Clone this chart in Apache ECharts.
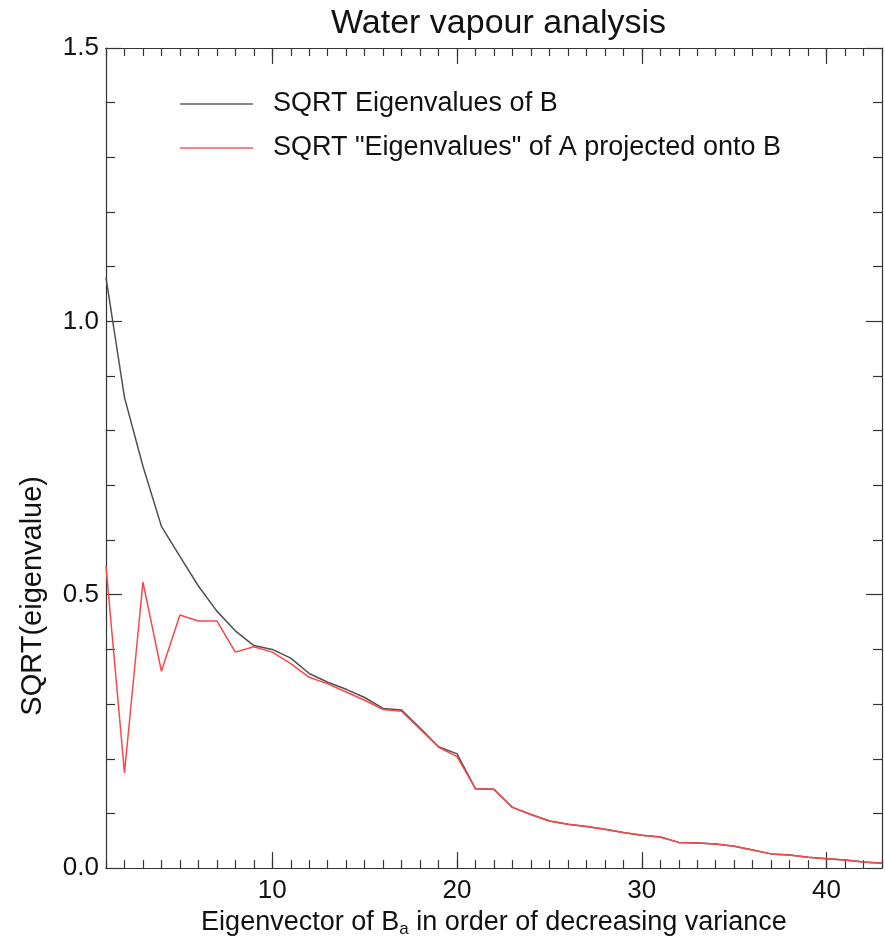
<!DOCTYPE html>
<html>
<head>
<meta charset="utf-8">
<script src="https://cdn.jsdelivr.net/npm/echarts@6/dist/echarts.min.js"></script>
<style>html,body{margin:0;padding:0;background:#fff;}#c{width:885px;height:943px;}</style>
</head>
<body>
<div id="c"></div>
<script>
const eigIndex = [1,2,3,4,5,6,7,8,9,10,11,12,13,14,15,16,17,18,19,20,21,22,23,24,25,26,27,28,29,30,31,32,33,34,35,36,37,38,39,40,41,42,43];
const sqrtEigB = [1.080,0.861,0.735,0.625,0.570,0.516,0.470,0.434,0.407,0.400,0.384,0.356,0.340,0.327,0.312,0.292,0.289,0.256,0.222,0.209,0.145,0.144,0.111,0.098,0.086,0.080,0.076,0.071,0.065,0.060,0.057,0.047,0.046,0.044,0.040,0.033,0.026,0.024,0.020,0.017,0.015,0.011,0.009];
const sqrtEigAonB = [0.552,0.174,0.523,0.360,0.463,0.452,0.452,0.395,0.405,0.395,0.374,0.349,0.337,0.322,0.307,0.290,0.287,0.254,0.221,0.204,0.145,0.144,0.111,0.098,0.086,0.080,0.076,0.071,0.065,0.060,0.057,0.047,0.046,0.044,0.040,0.033,0.026,0.024,0.020,0.017,0.015,0.011,0.009];
const xMajorTicks = [10,20,30,40];
const seriesNames = ['SQRT Eigenvalues of B', 'SQRT "Eigenvalues" of A projected onto B'];

const FONT = 'Liberation Sans';
const AX = '#333';
const chart = echarts.init(document.getElementById('c'), null, {renderer:'canvas'});

function xAx(pos, major, showLabel, showName) {
  const a = {
    type:'value', position:pos, min:1, max:43, gridIndex:0,
    axisLine:{show:true, onZero:false, lineStyle:{color:AX, width:1.2}},
    splitLine:{show:false},
    axisTick:{show:true, inside:true, length: major?16:8, lineStyle:{color:AX, width:1.2}},
    axisLabel:{show:showLabel, color:'#111', fontFamily:FONT, fontSize:26, margin:10}
  };
  if (major) {
    a.axisTick.customValues = xMajorTicks;
    a.axisLabel.customValues = xMajorTicks;
  } else {
    a.interval = 1;
  }
  if (showName) {
    a.name = 'Eigenvector of B{sub|a} in order of decreasing variance';
    a.nameLocation = 'middle';
    a.nameGap = 30;
    a.nameTextStyle = {color:'#111', fontFamily:FONT, fontSize:27,
      rich:{sub:{fontFamily:FONT, fontSize:17, color:'#111', verticalAlign:'bottom', padding:[14,0,0,0]}}};
  }
  return a;
}
function yAx(pos, showLabel) {
  return {
    type:'value', position:pos, min:0, max:1.5, interval:0.5,
    axisLine:{show:true, onZero:false, lineStyle:{color:AX, width:1.2}},
    splitLine:{show:false},
    axisTick:{show:true, inside:true, length:16, lineStyle:{color:AX, width:1.2}},
    minorTick:{show:true, splitNumber:5, length:9, lineStyle:{color:AX, width:1.2}},
    axisLabel:{show:showLabel, color:'#111', fontFamily:FONT, fontSize:26, margin:7,
      formatter:v=>v.toFixed(1)}
  };
}

const option = {
  backgroundColor:'#fff',
  animation:false,
  title:{text:'Water vapour analysis', left:326, top:2,
    textStyle:{fontFamily:FONT, fontSize:34, fontWeight:'normal', color:'#111'}},
  grid:{left:106, right:3, top:48, bottom:69, containLabel:false},
  legend:{
    orient:'vertical', left:180, top:89, itemGap:14, padding:0,
    itemWidth:73, itemHeight:2, icon:'rect',
    textStyle:{fontFamily:FONT, fontSize:27, color:'#111', lineHeight:30, padding:[0,0,0,15]},
    data:[{name:seriesNames[0], itemStyle:{color:'#888'}},{name:seriesNames[1], itemStyle:{color:'#ff8080'}}]
  },
  xAxis:[ xAx('bottom', true, true, true), xAx('bottom', false, false, false),
          xAx('top', true, false, false), xAx('top', false, false, false) ],
  yAxis:[ yAx('left', true), yAx('right', false) ],
  series:[
    {name:seriesNames[0], type:'line', xAxisIndex:0, yAxisIndex:0, showSymbol:false, symbol:'none',
      lineStyle:{color:'#505050', width:1.5}, itemStyle:{color:'#505050'},
      data: eigIndex.map((x,i)=>[x, sqrtEigB[i]])},
    {name:seriesNames[1], type:'line', xAxisIndex:0, yAxisIndex:0, showSymbol:false, symbol:'none',
      lineStyle:{color:'#ff4646', width:1.5}, itemStyle:{color:'#ff4646'},
      data: eigIndex.map((x,i)=>[x, sqrtEigAonB[i]])}
  ],
  graphic:[{type:'text', left:18, top:476, rotation:Math.PI/2,
    style:{text:'SQRT(eigenvalue)', font:'29px "Liberation Sans"', fill:'#111'}}]
};
chart.setOption(option);
</script>
</body>
</html>
